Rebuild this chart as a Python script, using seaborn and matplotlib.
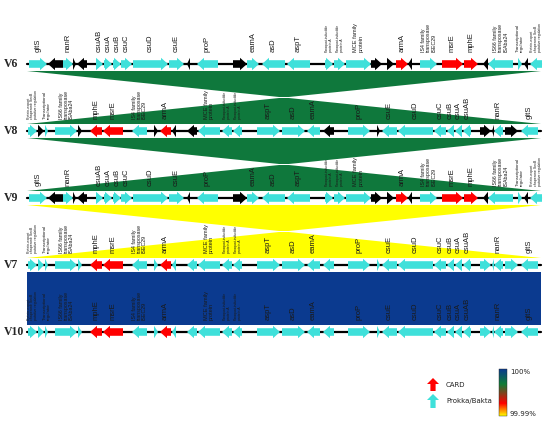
import numpy as np
import pandas as pd
import seaborn as sns
import matplotlib
matplotlib.use("Agg")
from matplotlib import pyplot as plt
from matplotlib.patches import Polygon
from matplotlib.colors import LinearSegmentedColormap, Normalize
from matplotlib.cm import ScalarMappable

sns.set_theme(style="white")
plt.rcParams['font.family'] = ['Liberation Sans', 'DejaVu Sans']

# ---- data ----
tracks = ["V6", "V8", "V9", "V7", "V10"]
track_start = 27
track_end = 541

PQ = "Paraquat-inducible\nprotein A"
MCE = "MCE family\nprotein"
IS4 = "IS4 family\ntransposase\nISEC29"
IS66 = "IS66 family\ntransposase\nISAba24"
TR = "Transcriptional\nregulator"
PRT = "Protein-export\nchaperone SecB\nputative regulation"

# (start, end, strand, source, label)   c = Prokka/Bakta, k = other, r = CARD
v6_genes = [
    (29, 47, 1, 'c', 'gltS'), (48, 63, -1, 'k', ''), (63, 73, 1, 'c', 'nanR'),
    (73, 76, 1, 'k', ''), (77, 87, -1, 'k', ''), (96, 103, 1, 'c', 'csuAB'),
    (104, 112, 1, 'c', 'csuA'), (113, 121, 1, 'c', 'csuB'), (121, 132, 1, 'c', 'csuC'),
    (133, 168, 1, 'c', 'csuD'), (169, 184, 1, 'c', 'csuE'), (187, 190, -1, 'k', ''),
    (197, 218, -1, 'c', 'proP'), (233, 247, 1, 'k', ''), (247, 259, 1, 'c', 'eamA'),
    (262, 285, -1, 'c', 'asD'), (287, 310, -1, 'c', 'aspT'), (325, 333, 1, 'c', PQ),
    (334, 345, 1, 'c', PQ), (346, 371, 1, 'c', MCE), (371, 382, 1, 'k', ''),
    (387, 394, 1, 'k', ''), (396, 408, 1, 'r', 'armA'), (408, 412, -1, 'k', ''),
    (420, 437, 1, 'c', IS4), (442, 463, 1, 'r', 'msrE'), (464, 478, 1, 'r', 'mphE'),
    (483, 488, -1, 'k', ''), (488, 513, -1, 'c', IS66), (518, 522, 1, 'c', TR),
    (524, 528, -1, 'k', ''), (530, 542, -1, 'c', PRT),
]

v8_genes = [
    (28, 37, 1, 'c', PRT), (38, 44, 1, 'k', ''), (45, 48, 1, 'c', TR),
    (55, 77, 1, 'c', IS66), (78, 82, 1, 'k', ''), (90, 102, -1, 'r', 'mphE'),
    (103, 123, -1, 'r', 'msrE'), (132, 147, -1, 'c', IS4), (154, 158, 1, 'k', ''),
    (160, 171, -1, 'r', 'armA'), (172, 176, -1, 'k', ''), (187, 197, -1, 'k', ''),
    (198, 220, -1, 'c', MCE), (222, 232, -1, 'c', PQ), (233, 242, -1, 'c', PQ),
    (257, 280, 1, 'c', 'aspT'), (282, 305, 1, 'c', 'asD'), (307, 320, -1, 'c', 'eamA'),
    (323, 334, -1, 'k', ''), (348, 370, 1, 'c', 'proP'), (377, 380, 1, 'k', ''),
    (382, 397, -1, 'c', 'csuE'), (398, 433, -1, 'c', 'csuD'), (434, 446, -1, 'c', 'csuC'),
    (447, 454, -1, 'c', 'csuB'), (455, 462, -1, 'c', 'csuA'), (463, 471, -1, 'c', 'csuAB'),
    (480, 491, 1, 'k', ''), (492, 494, -1, 'k', ''), (494, 503, -1, 'c', 'nanR'),
    (505, 518, 1, 'k', ''), (521, 538, -1, 'c', 'gltS'),
]

v9_genes = list(v6_genes)
# in V7 / V10 every non-CARD gene was annotated by Prokka/Bakta
v7_genes = [(s, e, d, 'c' if k == 'k' else k, lab) for s, e, d, k, lab in v8_genes]
v10_genes = list(v7_genes)

genes = {"V6": v6_genes, "V8": v8_genes, "V9": v9_genes, "V7": v7_genes, "V10": v10_genes}

# (upper, lower, inverted, identity %)
comparisons = [("V6", "V8", True, 99.997), ("V8", "V9", True, 99.997),
               ("V9", "V7", True, 99.990), ("V7", "V10", False, 100.0)]

# ---- style ----
track_y = dict(zip(tracks, [64, 131, 198, 265, 332]))
gene_cols = {'c': '#3fe0da', 'k': '#000000', 'r': '#ff0000'}
cmap = LinearSegmentedColormap.from_list(
    "ident", [(0.0, "#ffff00"), (0.27, "#ff0000"), (0.68, "#0f7d36"), (1.0, "#0b3a8f")])
norm = Normalize(vmin=99.99, vmax=100.0)


def gene_poly(s, e, strand, y, body=3.8, head=6.2, hl=7.0):
    h = min(hl, e - s)
    if strand > 0:
        b = e - h
        if h >= e - s:
            return [(s, y - head), (e, y), (s, y + head)]
        return [(s, y - body), (b, y - body), (b, y - head), (e, y),
                (b, y + head), (b, y + body), (s, y + body)]
    b = s + h
    if h >= e - s:
        return [(e, y - head), (s, y), (e, y + head)]
    return [(e, y - body), (b, y - body), (b, y - head), (s, y),
            (b, y + head), (b, y + body), (e, y + body)]


fig = plt.figure(figsize=(5.5, 4.23), dpi=100)
ax = fig.add_axes([0, 0, 1, 1])

# comparison ribbons
for up, low, inv, ident in comparisons:
    t, b = track_y[up] + 7, track_y[low] - 7
    if inv:
        pts = [(track_start, t), (track_end, t), (track_start, b), (track_end, b)]
    else:
        pts = [(track_start, t), (track_end, t), (track_end, b), (track_start, b)]
    ax.add_patch(Polygon(pts, closed=True, facecolor=cmap(norm(ident)),
                         edgecolor='none', zorder=1))

# backbones
bb = pd.DataFrame({"track": np.repeat(tracks, 2),
                   "x": [track_start, track_end] * len(tracks),
                   "y": np.repeat([track_y[t] for t in tracks], 2)})
sns.lineplot(data=bb, x="x", y="y", units="track", estimator=None, sort=False,
             color="black", linewidth=1.6, legend=False, ax=ax, zorder=2)

labels = []
for name in tracks:
    y = track_y[name]
    for s, e, d, k, lab in genes[name]:
        ax.add_patch(Polygon(gene_poly(s, e, d, y), closed=True,
                             facecolor=gene_cols[k], edgecolor='none', zorder=3))
        if lab:
            labels.append(ax.text((s + e) / 2, y - 12, lab, rotation=90, ha='center',
                                  va='bottom', multialignment='left', fontsize=5.5,
                                  color='#1a1a1a', linespacing=1.0, zorder=4))
    ax.text(4, y, name, family='Liberation Serif', fontweight='bold', fontsize=8.5,
            ha='left', va='center', zorder=4)

ax.set_xlim(0, 550)
ax.set_ylim(423, 0)
ax.axis('off')

# shrink long labels to fit
r = fig.canvas.get_renderer()
for t in labels:
    h = t.get_window_extent(r).height
    if h > 29:
        t.set_fontsize(5.5 * 29 / h)

# legend
def up_arrow(x, y0, y1, color):
    return Polygon([(x - 2.6, y0), (x + 2.6, y0), (x + 2.6, y1 + 6), (x + 6, y1 + 6),
                    (x, y1), (x - 6, y1 + 6), (x - 2.6, y1 + 6)], closed=True,
                   facecolor=color, edgecolor='none')

ax.add_patch(up_arrow(433, 391, 378, gene_cols['r']))
ax.add_patch(up_arrow(433, 408, 394, gene_cols['c']))
ax.text(446, 385, "CARD", fontsize=5, family='DejaVu Sans', va='center', color='#222222')
ax.text(446, 401, "Prokka/Bakta", fontsize=5, family='DejaVu Sans', va='center', color='#222222')

cax = fig.add_axes([499 / 550, 1 - 416 / 423, 8 / 550, 47 / 423])
cb = fig.colorbar(ScalarMappable(norm=norm, cmap=cmap), cax=cax)
cb.set_ticks([])
cb.outline.set_linewidth(0.3)
ax.text(510, 372, "100%", fontsize=5, family='DejaVu Sans', va='center', color='#222222')
ax.text(510, 414, "99.99%", fontsize=5, family='DejaVu Sans', va='center', color='#222222')

fig.savefig("out.png", dpi=100)
